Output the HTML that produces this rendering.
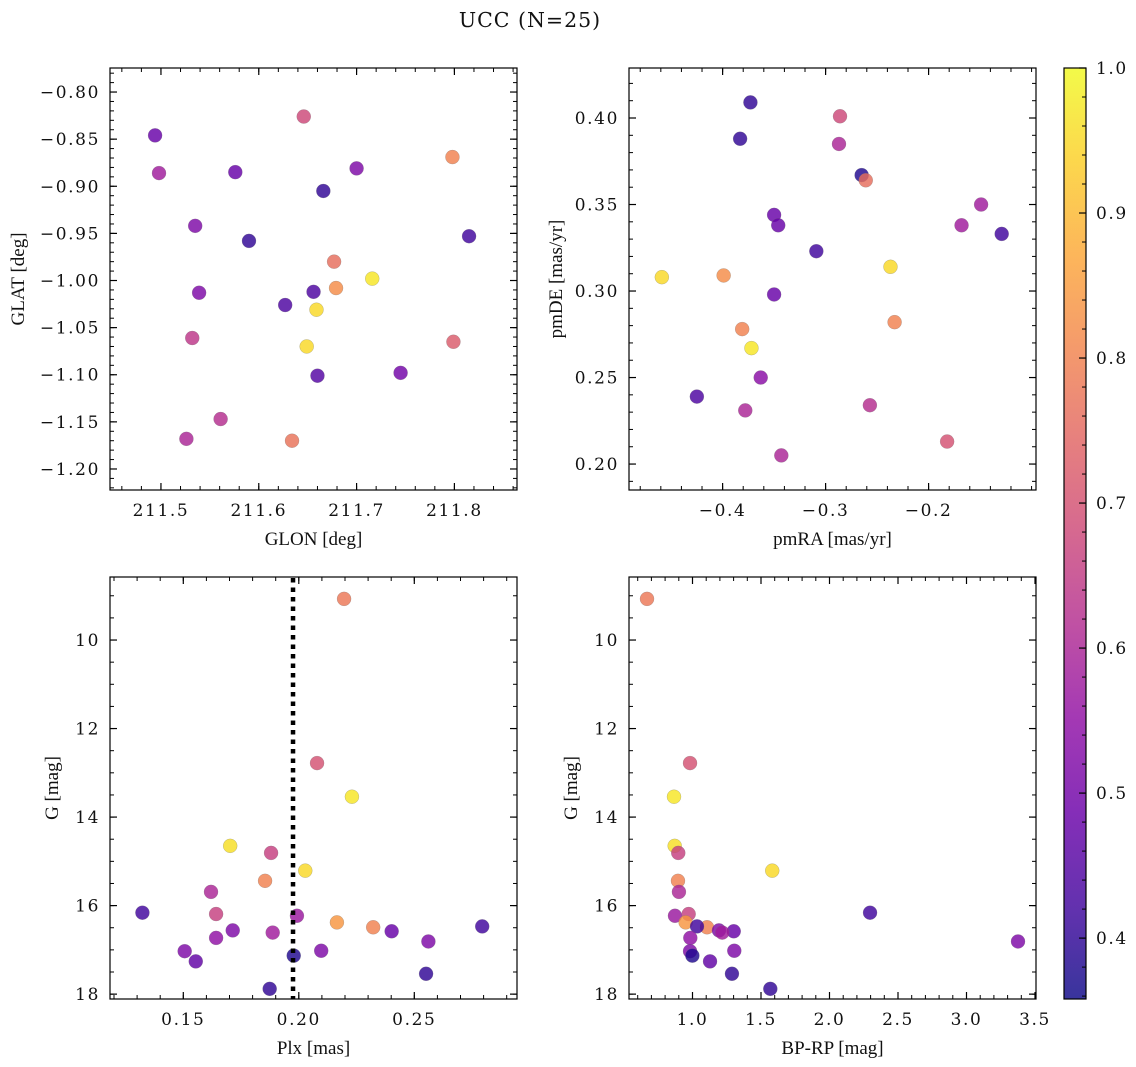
<!DOCTYPE html>
<html><head><meta charset="utf-8"><style>
html,body{margin:0;padding:0;background:#fff;}
svg{display:block;font-family:"DejaVu Serif","Liberation Serif",serif;}
.tk{font-size:17px;fill:#111;font-family:"DejaVu Serif","Liberation Serif",serif;letter-spacing:1.6px;}
.al{font-size:19px;fill:#111;font-family:"Liberation Serif","DejaVu Serif",serif;}
</style></head><body>
<svg id="fig" width="1136" height="1067" viewBox="0 0 1136 1067">
<defs>
<linearGradient id="plasmaGrad" x1="0" y1="1" x2="0" y2="0">
<stop offset="0" stop-color="#0d0887"/><stop offset="0.1" stop-color="#41049d"/><stop offset="0.2" stop-color="#6a00a8"/><stop offset="0.3" stop-color="#8f0da4"/><stop offset="0.4" stop-color="#b12a90"/><stop offset="0.5" stop-color="#cc4778"/><stop offset="0.6" stop-color="#e16462"/><stop offset="0.7" stop-color="#f2844b"/><stop offset="0.8" stop-color="#fca636"/><stop offset="0.9" stop-color="#fcce25"/><stop offset="1" stop-color="#f0f921"/>
</linearGradient>
</defs>
<text x="530" y="27" text-anchor="middle" font-size="20.5" letter-spacing="1" fill="#111">UCC (N=25)</text>
</svg>
<script>
// ---- data: top-left (GLON/GLAT) ----
const glon = [211.494,211.498,211.646,211.798,211.576,211.666,211.700,211.535,211.590,211.815,211.677,211.716,211.679,211.539,211.627,211.656,211.659,211.532,211.799,211.649,211.660,211.745,211.561,211.526,211.634];
const glat = [-0.846,-0.886,-0.826,-0.869,-0.885,-0.905,-0.881,-0.942,-0.958,-0.953,-0.980,-0.998,-1.008,-1.013,-1.026,-1.012,-1.031,-1.061,-1.065,-1.070,-1.101,-1.098,-1.147,-1.168,-1.170];
const probTL = [0.48,0.58,0.68,0.80,0.48,0.40,0.52,0.52,0.40,0.42,0.76,0.97,0.82,0.52,0.44,0.44,0.95,0.64,0.72,0.95,0.45,0.50,0.62,0.60,0.77];
// ---- data: top-right (pmRA/pmDE) ----
const pmra = [-0.373,-0.286,-0.383,-0.287,-0.265,-0.261,-0.149,-0.350,-0.168,-0.346,-0.129,-0.309,-0.459,-0.399,-0.237,-0.350,-0.233,-0.381,-0.372,-0.363,-0.425,-0.378,-0.257,-0.182,-0.343];
const pmde = [0.409,0.401,0.388,0.385,0.367,0.364,0.350,0.344,0.338,0.338,0.333,0.323,0.308,0.309,0.314,0.298,0.282,0.278,0.267,0.250,0.239,0.231,0.234,0.213,0.205];
const probTR = [0.40,0.68,0.40,0.60,0.38,0.76,0.58,0.48,0.58,0.48,0.42,0.42,0.95,0.82,0.95,0.48,0.80,0.80,0.97,0.54,0.44,0.60,0.62,0.70,0.60];
// ---- data: bottom panels (Plx, BP-RP vs G) ----
const gmag = [9.07,12.78,13.54,14.65,14.81,15.21,15.44,15.69,16.16,16.19,16.23,16.38,16.49,16.58,16.47,16.56,16.61,16.73,16.81,17.02,17.03,17.26,17.13,17.54,17.88];
const plx = [0.2196,0.2079,0.2230,0.1703,0.1880,0.2028,0.1854,0.1620,0.1323,0.1642,0.1992,0.2165,0.2322,0.2402,0.2794,0.1714,0.1887,0.1642,0.2561,0.2097,0.1506,0.1554,0.1978,0.2551,0.1874];
const bprp = [0.668,0.982,0.865,0.870,0.896,1.582,0.894,0.901,2.296,0.972,0.872,0.950,1.106,1.301,1.033,1.193,1.217,0.984,3.376,1.305,0.982,1.128,0.999,1.288,1.568];
const probB = [0.78,0.70,0.97,0.96,0.66,0.95,0.80,0.60,0.42,0.66,0.57,0.84,0.80,0.48,0.42,0.52,0.58,0.55,0.52,0.52,0.52,0.47,0.38,0.40,0.40];
const plxLine = [0.1975];
// ---- tick labels ----
const tlXTicks = [211.5,211.6,211.7,211.8];
const tlYTicks = [-0.80,-0.85,-0.90,-0.95,-1.00,-1.05,-1.10,-1.15,-1.20];
const trXTicks = [-0.4,-0.3,-0.2];
const trYTicks = [0.20,0.25,0.30,0.35,0.40];
const gTicks = [10,12,14,16,18];
const blXTicks = [0.15,0.20,0.25];
const brXTicks = [1.0,1.5,2.0,2.5,3.0,3.5];
const cbTicks = [0.4,0.5,0.6,0.7,0.8,0.9,1.0];

const NS='http://www.w3.org/2000/svg';
const svg=document.getElementById('fig');
function mk(tag,attrs,parent){const e=document.createElementNS(NS,tag);for(const k in attrs)e.setAttribute(k,attrs[k]);(parent||svg).appendChild(e);return e;}
const stops=[[13,8,135],[65,4,157],[106,0,168],[143,13,164],[177,42,144],[204,71,120],[225,100,98],[242,132,75],[252,166,54],[252,206,37],[240,249,33]];
const VMIN=0.358,VMAX=1.0;
function plasma(v){let t=(v-VMIN)/(VMAX-VMIN);t=Math.max(0,Math.min(1,t));const s=t*10,i=Math.min(9,Math.floor(s)),f=s-i;const a=stops[i],b=stops[i+1];return 'rgb('+[0,1,2].map(k=>Math.round(a[k]+(b[k]-a[k])*f)).join(',')+')';}
function fmt(v,d){return (v<0?'\u2212':'')+Math.abs(v).toFixed(d);}

function panel(o){
  const g=mk('g',{});
  
  
  const sx=v=>o.x0+(v-o.xmin)/(o.xmax-o.xmin)*(o.x1-o.x0);
  const sy=v=>o.y0+(v-o.ytop)/(o.ybot-o.ytop)*(o.y1-o.y0);
  o.sx=sx;o.sy=sy;
  const lo=Math.min(o.xmin,o.xmax),hi=Math.max(o.xmin,o.xmax);
  for(let v=Math.ceil(lo/o.xminor-1e-6)*o.xminor;v<=hi+1e-9;v+=o.xminor){const x=sx(v);
    mk('line',{x1:x,x2:x,y1:o.y1,y2:o.y1-4,stroke:'#000','stroke-width':1},g);mk('line',{x1:x,x2:x,y1:o.y0,y2:o.y0+4,stroke:'#000','stroke-width':1},g);}
  const ylo=Math.min(o.ytop,o.ybot),yhi=Math.max(o.ytop,o.ybot);
  for(let v=Math.ceil(ylo/o.yminor-1e-6)*o.yminor;v<=yhi+1e-9;v+=o.yminor){const y=sy(v);
    mk('line',{x1:o.x0,x2:o.x0+4,y1:y,y2:y,stroke:'#000','stroke-width':1},g);mk('line',{x1:o.x1,x2:o.x1-4,y1:y,y2:y,stroke:'#000','stroke-width':1},g);}
  o.xt.forEach(v=>{const x=sx(v);
    mk('line',{x1:x,x2:x,y1:o.y1,y2:o.y1-7,stroke:'#000','stroke-width':1.2},g);mk('line',{x1:x,x2:x,y1:o.y0,y2:o.y0+7,stroke:'#000','stroke-width':1.2},g);
    const t=mk('text',{x:x,y:o.y1+26,'text-anchor':'middle','class':'tk'},g);t.textContent=fmt(v,o.xd);
    
    });
  o.yt.forEach(v=>{const y=sy(v);
    mk('line',{x1:o.x0,x2:o.x0+7,y1:y,y2:y,stroke:'#000','stroke-width':1.2},g);mk('line',{x1:o.x1,x2:o.x1-7,y1:y,y2:y,stroke:'#000','stroke-width':1.2},g);
    const t=mk('text',{x:o.x0-10,y:y+6,'text-anchor':'end','class':'tk'},g);t.textContent=fmt(v,o.yd);
    
    });
  o.xs.forEach((xv,i)=>{const c=mk('circle',{cx:sx(xv),cy:sy(o.ys[i]),r:7,fill:plasma(o.c[i]),'fill-opacity':0.82,stroke:'#777','stroke-width':0.4,'stroke-opacity':0.6},g);
    
    });
  mk('rect',{x:o.x0,y:o.y0,width:o.x1-o.x0,height:o.y1-o.y0,fill:'none',stroke:'#000','stroke-width':1.2},g);
  const xl=mk('text',{x:(o.x0+o.x1)/2,y:o.y1+55,'text-anchor':'middle','class':'al'},g);xl.textContent=o.xlab;
  
  
  const yx=o.ylx,yy=(o.y0+o.y1)/2;
  const yl=mk('text',{x:yx,y:yy,'text-anchor':'middle','class':'al',transform:'rotate(-90 '+yx+' '+yy+')'},g);yl.textContent=o.ylab;
  
  
  return o;
}
panel({name:'panel-glon-glat',x0:110,x1:517,y0:68,y1:490,xmin:211.4479,xmax:211.864,ytop:-0.7745,ybot:-1.2223,xt:tlXTicks,yt:tlYTicks,xd:1,yd:2,xminor:0.02,yminor:0.01,xs:glon,ys:glat,c:probTL,xlab:'GLON [deg]',ylab:'GLAT [deg]',ylx:24});
panel({name:'panel-pm',x0:629,x1:1036,y0:68,y1:490,xmin:-0.4909,xmax:-0.0957,ytop:0.4289,ybot:0.185,xt:trXTicks,yt:trYTicks,xd:1,yd:2,xminor:0.02,yminor:0.01,xs:pmra,ys:pmde,c:probTR,xlab:'pmRA [mas/yr]',ylab:'pmDE [mas/yr]',ylx:562});
const bl=panel({name:'panel-plx-g',x0:110,x1:517,y0:577,y1:999,xmin:0.15-(183.3-110)/2310,xmax:0.15+(517-183.3)/2310,ytop:8.576,ybot:18.11,xt:blXTicks,yt:gTicks,xd:2,yd:0,xminor:0.01,yminor:0.5,xs:plx,ys:gmag,c:probB,xlab:'Plx [mas]',ylab:'G [mag]',ylx:58});
panel({name:'panel-cmd',x0:629,x1:1036,y0:577,y1:999,xmin:1-(692.5-629)/137,xmax:1+(1036-692.5)/137,ytop:8.576,ybot:18.11,xt:brXTicks,yt:gTicks,xd:1,yd:0,xminor:0.1,yminor:0.5,xs:bprp,ys:gmag,c:probB,xlab:'BP-RP [mag]',ylab:'G [mag]',ylx:577});
plxLine.forEach(v=>{const x=bl.sx(v);const l=mk('line',{x1:x,x2:x,y1:578,y2:999,stroke:'#000','stroke-width':4.5,'stroke-dasharray':'4.5 5'});
  
  });
const cb=mk('g',{});


const cy0=68,cy1=999,cx0=1064,cx1=1086;
const cs=v=>cy1-(v-VMIN)/(VMAX-VMIN)*(cy1-cy0);
mk('rect',{x:cx0,y:cy0,width:cx1-cx0,height:cy1-cy0,fill:'url(#plasmaGrad)','fill-opacity':0.82},cb);
mk('rect',{x:cx0,y:cy0,width:cx1-cx0,height:cy1-cy0,fill:'none',stroke:'#000','stroke-width':1.2},cb);
for(let v=0.36;v<=1.0001;v+=0.02){const y=cs(v);mk('line',{x1:cx1,x2:cx1-4,y1:y,y2:y,stroke:'#000','stroke-width':1},cb);}
cbTicks.forEach(v=>{const y=cs(v);mk('line',{x1:cx1,x2:cx1-7,y1:y,y2:y,stroke:'#000','stroke-width':1.2},cb);
  const t=mk('text',{x:cx1+10,y:y+6,'class':'tk'},cb);t.textContent=v.toFixed(1);
  
  });
</script>
</body></html>
